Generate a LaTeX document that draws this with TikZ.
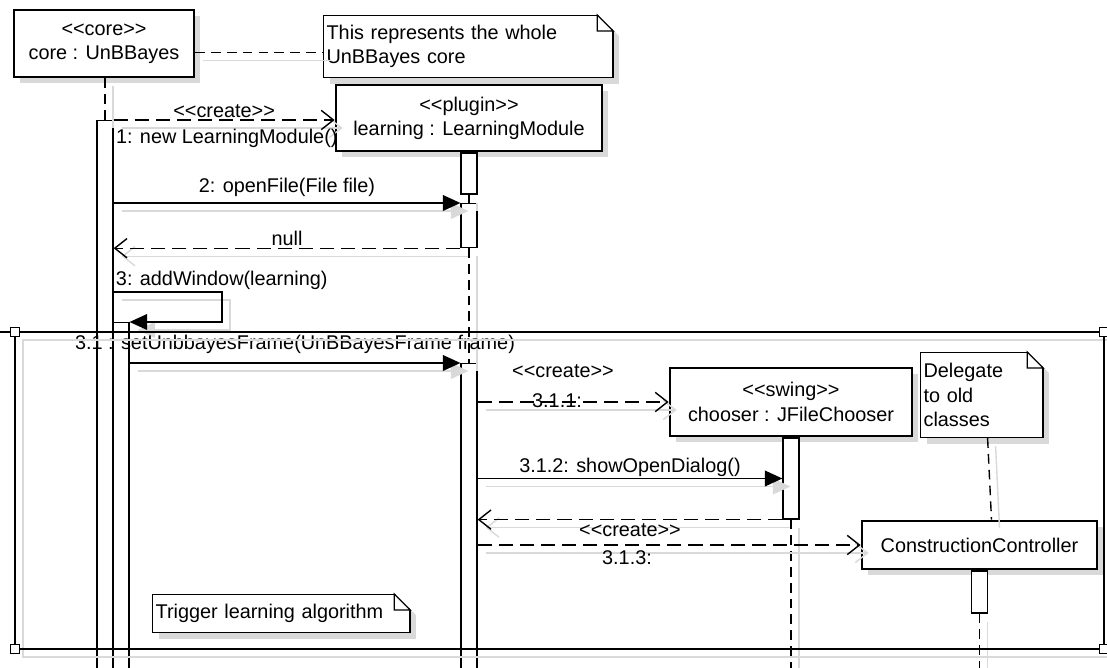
\documentclass[tikz,border=0pt]{standalone}
\usepackage{fontspec}
\setmainfont{Liberation Sans}
\usepackage{tikz}
\usetikzlibrary{arrows.meta, shadows, calc, positioning}

\newcommand{\stereo}[1]{<{}<#1>{}>}
% folded corner of a note
\newcommand{\foldnote}[1]{%
    \fill[white] ([shift={(-17,-2)}]#1.north east) -- ([shift={(12,-2)}]#1.north east)
        -- ([shift={(12,27)}]#1.north east) -- cycle;
    \draw[line width=0.7pt] ([shift={(-16,0)}]#1.north east) -- ([shift={(0,16)}]#1.north east)
        -- ([shift={(-16,16)}]#1.north east) -- cycle;
    \draw[line width=0.7pt] ([shift={(0,16)}]#1.north east) -- (#1.south east);
}

\begin{document}
\begin{tikzpicture}[x=0.02cm, y=-0.02cm, font=\fontsize{11.3}{13.8}\selectfont,
    obj/.style={draw, line width=1.6pt, fill=white, align=center, inner sep=0pt,
        general shadow={fill=black!15, shadow xshift=0.12cm, shadow yshift=-0.12cm}},
    note/.style={draw, line width=0.7pt, fill=white, align=left, inner xsep=0.06cm,
        inner ysep=0pt, anchor=north west,
        general shadow={fill=black!15, shadow xshift=0.12cm, shadow yshift=-0.12cm}},
    bar/.style={draw, line width=0.7pt, fill=white, minimum width=0.32cm, inner sep=0pt, anchor=north},
    ghost/.style={preaction={draw=black!15, solid, line width=0.8pt,
        transform canvas={shift={(0.16cm,-0.16cm)}}}},
    life/.style={ghost, line width=0.8pt, dash pattern=on 5.5pt off 3.5pt},
    callmsg/.style={ghost, line width=0.7pt, -{Triangle[length=10pt, width=9pt]}},
    dashmsg/.style={ghost, line width=0.8pt, dash pattern=on 8pt off 4pt,
        -{Straight Barb[length=7pt, width=11pt]}},
    msg/.style={inner sep=1pt},
    handle/.style={draw, line width=0.7pt, fill=white, minimum size=0.18cm, inner sep=0pt}
]
    \useasboundingbox (0,0) rectangle (1107,668);

    % 1. Objects and notes
    \node[obj, minimum width=3.6cm, minimum height=1.34cm] (core) at (104,43.5)
        {\stereo{core}\\core : UnBBayes};
    \node[note, text width=5.66cm, minimum height=1.24cm] (n1) at (323,15)
        {This represents the whole\\UnBBayes core};
    \foldnote{n1}
    \node[obj, minimum width=5.32cm, minimum height=1.32cm] (learning) at (469,118)
        {\stereo{plugin}\\learning : LearningModule};
    \node[obj, minimum width=4.84cm, minimum height=1.36cm] (chooser) at (791,402)
        {\stereo{swing}\\chooser : JFileChooser};
    \node[obj, minimum width=4.7cm, minimum height=0.96cm] (cc) at (979.5,545)
        {ConstructionController};
    \node[note, text width=2.32cm, minimum height=1.7cm] (n2) at (920,352)
        {Delegate\\to old\\classes};
    \foldnote{n2}
    \node[note, text width=5.02cm, minimum height=0.76cm] (n3) at (152,594)
        {Trigger learning algorithm};
    \foldnote{n3}

    % 2. Activation bars
    \node[bar, minimum height=11.4cm] (coreA) at (105,120) {};
    \node[bar, minimum height=7.36cm] (coreB) at (121,322) {};
    \node[bar, minimum height=0.82cm] (learnA) at (learning.south) {};
    \node[bar, minimum height=0.88cm] (learnB) at (469,203) {};
    \node[bar, minimum height=6.54cm] (learnC) at (469,363) {};
    \node[bar, minimum height=1.62cm] (chooserA) at (chooser.south) {};
    \node[bar, minimum height=0.84cm] (ccA) at (cc.south) {};

    % 3. Lifelines and note links
    \coordinate (chooserEnd) at (791,690);
    \coordinate (ccEnd) at (979.5,690);
    \draw[life] (coreA.north |- core.south) -- (coreA.north);
    \draw[life] (learnA.south) -- (learnB.north);
    \draw[life] (learnB.south) -- (learnC.north);
    \draw[life] (chooserA.south) -- (chooserEnd);
    \draw[life] (ccA.south) -- (ccEnd);
    \coordinate (k1) at ($(core.east)+(0,9)$);
    \draw[life] (k1) -- (k1 -| n1.west);
    \draw[life] ([shift={(6,0)}]n2.south) -- ([shift={(12,0)}]cc.north);

    % 4. Messages
    \draw[dashmsg] (coreA.north east) -- (coreA.north east -| learning.west)
        node[midway, above, msg] (t1a) {\stereo{create}}
        node[pos=0, below right, msg, yshift=-4pt] (t1b) {1: new LearningModule()};
    \draw[callmsg] (coreA.east |- learnB.north west) -- (learnB.north west)
        node[midway, above=2pt, msg] (t2) {2: openFile(File file)};
    \draw[dashmsg] (learnB.south west) -- (coreA.east |- learnB.south west)
        node[midway, above, msg] (t2r) {null};
    \coordinate (s3) at (222,292);
    \draw[callmsg] (coreA.east |- s3) node[above right, msg] (t3) {3: addWindow(learning)}
        -- (s3) -- (s3 |- coreB.north) -- (coreB.north east);
    \draw[callmsg] (coreB.east |- learnC.north west) -- (learnC.north west)
        node[midway, above=4pt, msg] (t31) {3.1 : setUnbbayesFrame(UnBBayesFrame frame)};
    \draw[dashmsg] (learnC.east |- chooser.west) -- (chooser.west);
    \node[msg] (t311a) at (563,371) {\stereo{create}};
    \node[msg] (t311b) at (557,401) {3.1.1:};
    \draw[callmsg] (learnC.east |- chooserA.west) -- (chooserA.west)
        node[midway, above, msg] (t312) {3.1.2: showOpenDialog()};
    \draw[dashmsg] (chooserA.south west) -- (learnC.east |- chooserA.south west);
    \draw[dashmsg] (learnC.east |- cc.west) -- (cc.west);
    \node[msg] (t313a) at (630,530) {\stereo{create}};
    \node[msg] (t313b) at (627,558) {3.1.3:};

    % 5. Frame
    \coordinate (fa) at (15,332);
    \coordinate (fb) at (1104,649);
    \coordinate (f0) at (0,332);
    \draw[ghost, line width=1.6pt] (fa) rectangle (fb);
    \draw[line width=1.6pt] (f0) -- (fa);
    \foreach \c/\n in {fa/ha, fb/hb, fa -| fb/hc, fa |- fb/hd}
        \node[handle] (\n) at (\c) {};
\end{tikzpicture}
\end{document}
